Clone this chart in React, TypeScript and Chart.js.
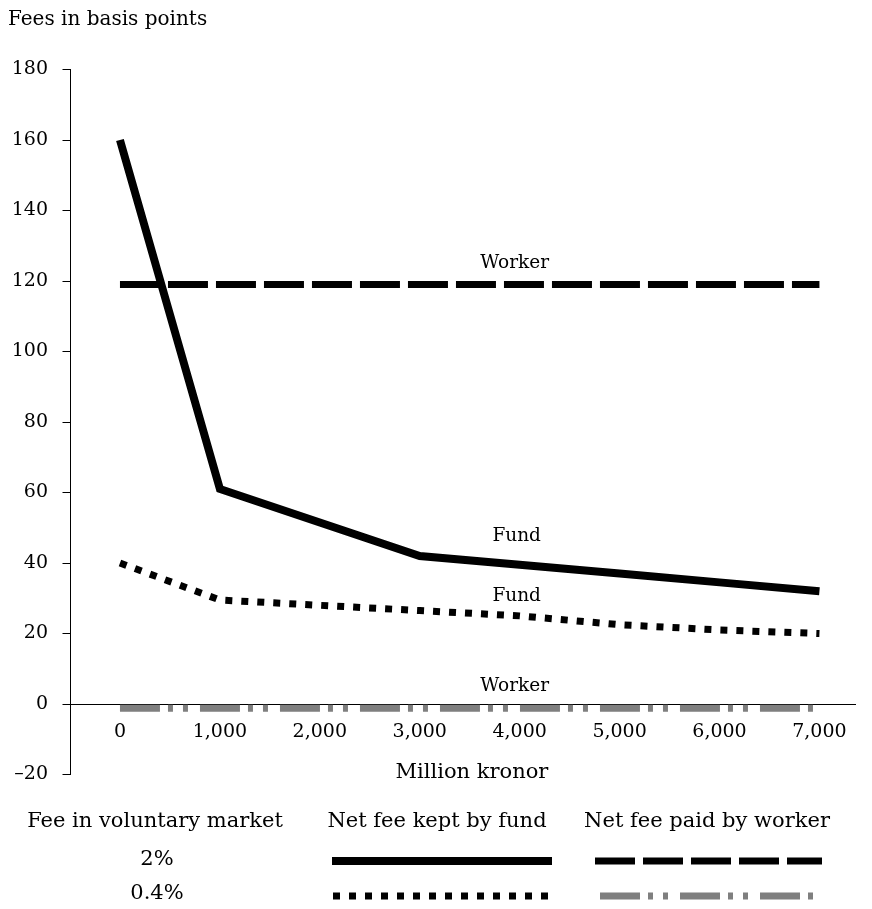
import { useEffect, useRef } from 'react';
import { Chart, registerables } from 'chart.js';

Chart.register(...registerables);

// ---- data ----
const xValues = [0, 1000, 2000, 3000, 4000, 5000, 6000, 7000];
const fundHigh = [160, 61, 51.5, 42, 39.5, 37, 34.5, 32];
const workerHigh = [119, 119, 119, 119, 119, 119, 119, 119];
const fundLow = [40, 29.5, 28, 26.5, 25, 22.5, 21, 20];
const workerLow = [-1.2, -1.2, -1.2, -1.2, -1.2, -1.2, -1.2, -1.2];
const xTicks = [0, 1000, 2000, 3000, 4000, 5000, 6000, 7000];
const yTicks = [-20, 0, 20, 40, 60, 80, 100, 120, 140, 160, 180];
const yTitle = 'Fees in basis points';
const xTitle = 'Million kronor';
const lineLabels = ['Worker', 'Fund', 'Fund', 'Worker'];
const lineLabelX = [3950, 3970, 3970, 3950];
const lineLabelY = [125, 47.5, 30.5, 5];
const legendHeaders = ['Fee in voluntary market', 'Net fee kept by fund', 'Net fee paid by worker'];
const legendRows = ['2%', '0.4%'];

// ---- styles ----
const FONT = '"DejaVu Serif", "Liberation Serif", serif';
const GRAY = '#7f7f7f';
const styleFundHigh = { color: '#000', width: 8, dash: [] as number[] };
const styleWorkerHigh = { color: '#000', width: 7, dash: [40, 8] };
const styleFundLow = { color: '#000', width: 7, dash: [7, 9] };
const styleWorkerLow = { color: GRAY, width: 7, dash: [40, 8, 5, 10, 5, 12] };

const toPoints = (ys: number[]) => xValues.map((x, i) => ({ x, y: ys[i] }));

const drawSample = (ctx: CanvasRenderingContext2D, s: { color: string; width: number; dash: number[] }, x1: number, x2: number, y: number) => {
  ctx.save();
  ctx.strokeStyle = s.color;
  ctx.lineWidth = s.width;
  ctx.lineCap = 'butt';
  ctx.setLineDash(s.dash);
  ctx.beginPath();
  ctx.moveTo(x1, y);
  ctx.lineTo(x2, y);
  ctx.stroke();
  ctx.restore();
};

const textPlugin = {
  id: 'textPlugin',
  afterDraw(chart: any) {
    const ctx: CanvasRenderingContext2D = chart.ctx;
    const xs = chart.scales.x;
    const ys = chart.scales.y;
    ctx.save();
    ctx.fillStyle = '#000';
    ctx.font = `20px ${FONT}`;
    ctx.textAlign = 'left';
    ctx.textBaseline = 'alphabetic';
    ctx.fillText(yTitle, 0, 17);

    ctx.font = `21px ${FONT}`;
    ctx.textAlign = 'center';
    ctx.textBaseline = 'middle';
    ctx.fillText(xTitle, 464, 765);

    ctx.font = `18.5px ${FONT}`;
    lineLabels.forEach((t, i) => {
      ctx.fillText(t, xs.getPixelForValue(lineLabelX[i]), ys.getPixelForValue(lineLabelY[i]));
    });

    // legend table
    ctx.font = `21px ${FONT}`;
    ctx.textBaseline = 'alphabetic';
    const colX = [147, 429, 699];
    legendHeaders.forEach((t, i) => ctx.fillText(t, colX[i], 819));
    const rowY = [853, 888];
    const rowBase = [857, 891];
    legendRows.forEach((t, i) => ctx.fillText(t, 149, rowBase[i]));
    drawSample(ctx, styleFundHigh, 324, 544, rowY[0]);
    drawSample(ctx, styleWorkerHigh, 587, 814, rowY[0]);
    drawSample(ctx, styleFundLow, 325, 541, rowY[1]);
    drawSample(ctx, styleWorkerLow, 592, 806, rowY[1]);
    ctx.restore();
  },
};

const ds = (label: string, ys: number[], s: { color: string; width: number; dash: number[] }) => ({
  label,
  data: toPoints(ys),
  borderColor: s.color,
  backgroundColor: s.color,
  borderWidth: s.width,
  borderDash: s.dash,
  borderCapStyle: 'butt' as const,
  borderJoinStyle: 'miter' as const,
  pointRadius: 0,
  tension: 0,
  fill: false,
});

export default function App() {
  const ref = useRef<HTMLCanvasElement>(null);
  useEffect(() => {
    if (!ref.current) return;
    const chart = new Chart(ref.current, {
      type: 'line',
      data: {
        datasets: [
          ds('Worker 0.4%', workerLow, styleWorkerLow),
          ds('Fund 0.4%', fundLow, styleFundLow),
          ds('Worker 2%', workerHigh, styleWorkerHigh),
          ds('Fund 2%', fundHigh, styleFundHigh),
        ],
      },
      options: {
        animation: false,
        responsive: true,
        maintainAspectRatio: false,
        devicePixelRatio: 1,
        layout: { padding: { top: 61.5, left: 0, right: 8, bottom: 126.5 } },
        plugins: { legend: { display: false }, tooltip: { enabled: false }, title: { display: false } },
        scales: {
          x: {
            type: 'linear',
            position: { y: 0 } as any,
            min: -495,
            max: 7360,
            afterBuildTicks: (s: any) => {
              s.ticks = xTicks.map((v) => ({ value: v }));
            },
            ticks: {
              callback: (v: any) => Number(v).toLocaleString('en-US'),
              color: '#000',
              font: { family: FONT, size: 19 },
              padding: 17,
              maxRotation: 0,
              autoSkip: false,
            },
            grid: { display: false, drawTicks: false },
            border: { display: true, color: '#000', width: 1 },
          },
          y: {
            type: 'linear',
            min: -20,
            max: 180,
            afterBuildTicks: (s: any) => {
              s.ticks = yTicks.map((v) => ({ value: v }));
            },
            afterFit: (s: any) => {
              s.width = 62.5;
            },
            ticks: {
              callback: (v: any) => (Number(v) < 0 ? '\u2013' + Math.abs(Number(v)) : String(v)),
              color: '#000',
              font: { family: FONT, size: 19 },
              padding: 14.5,
            },
            grid: { drawOnChartArea: false, drawTicks: true, tickLength: 8, color: '#000', lineWidth: 1 },
            border: { display: true, color: '#000', width: 1 },
          },
        },
      },
      plugins: [textPlugin],
    });
    return () => chart.destroy();
  }, []);
  return (
    <div style={{ position: 'relative', width: 856, height: 893 }}>
      <canvas ref={ref} />
    </div>
  );
}
